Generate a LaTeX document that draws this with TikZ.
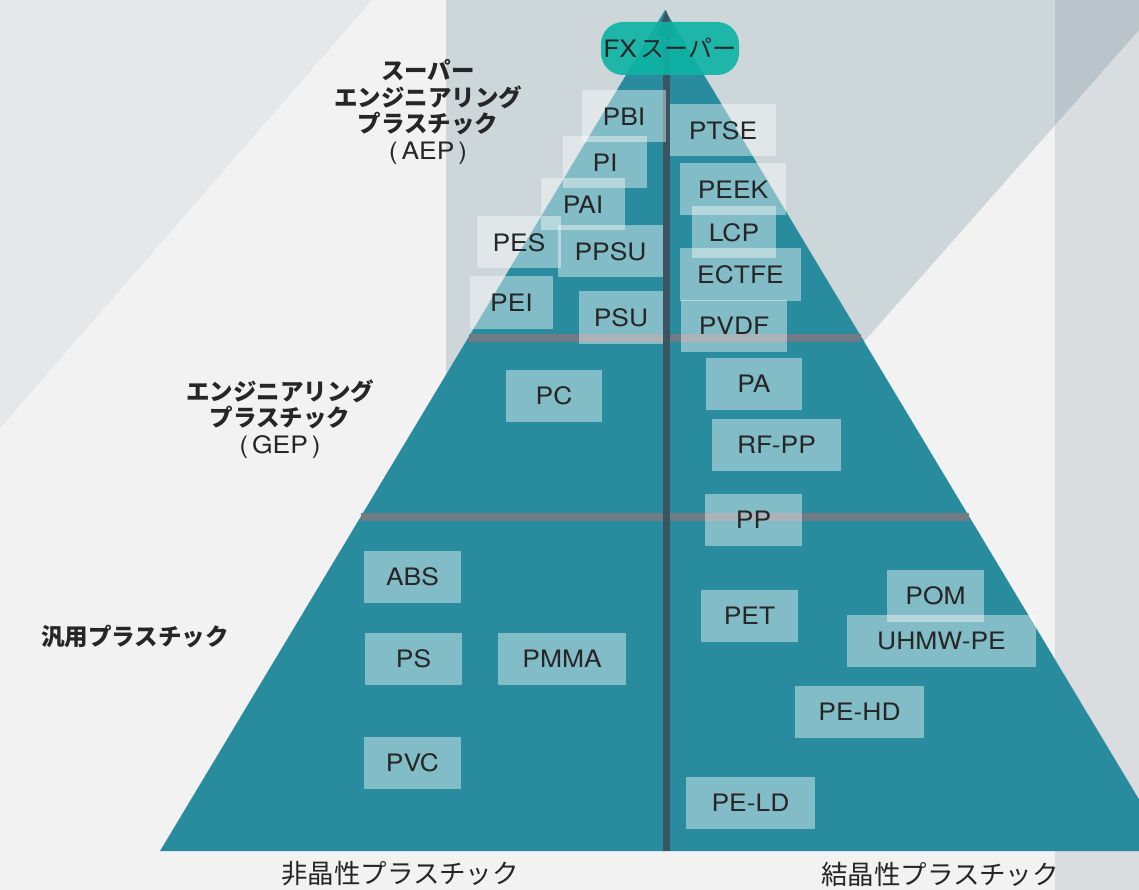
\documentclass[tikz,border=0pt]{standalone}
\usepackage{fontspec}
\setmainfont{TeX Gyre Heros}[FakeStretch=1.1]
\newfontfamily\jp{Noto Sans CJK JP}
\definecolor{bgc}{HTML}{F2F2F2}
\definecolor{lefttri}{HTML}{E6E7E8}
\definecolor{topc}{HTML}{CDD7DA}
\definecolor{bandc}{HTML}{D9DDE0}
\definecolor{bandtop}{HTML}{B9C5CA}
\definecolor{teal}{HTML}{288C9E}
\definecolor{sepc}{HTML}{6F7C85}
\definecolor{axisc}{HTML}{3A5561}
\definecolor{pillc}{HTML}{0DB3A5}
\definecolor{txt}{HTML}{262626}
\begin{document}
\begin{tikzpicture}[x=1pt,y=-1pt,
  box/.style={fill=white,fill opacity=0.42,text opacity=1,text=txt,
    minimum height=52pt,inner sep=0pt,font=\fontsize{24}{26}\selectfont},
  jplabel/.style={align=center,text=txt,font=\jp\bfseries\fontsize{23.5}{26.5}\selectfont},
  axislabel/.style={text=txt,font=\jp\fontsize{26.5}{30}\selectfont}]
\useasboundingbox (0,0) rectangle (1139,890);
% background
\fill[bgc] (0,0) rectangle (1139,890);
\fill[lefttri] (0,0) -- (372,0) -- (0,428) -- cycle;
\fill[bandc] (1055,0) rectangle (1139,890);
\fill[topc] (446,0) -- (1139,0) -- (1139,30) -- (665,567) -- (446,400) -- cycle;
\fill[bandtop] (1055,0) -- (1139,0) -- (1139,30) -- (1055,125) -- cycle;
% pyramid
\coordinate (apex) at (665,10);
\coordinate (bl) at (160,851);
\coordinate (br) at (1170,851);
\fill[teal] (apex) -- (bl) -- (br) -- cycle;
% separators
\coordinate (s1l) at (469,338);
\coordinate (s1r) at (861,338);
\coordinate (s2l) at (361,517);
\coordinate (s2r) at (969,517);
\draw[sepc,line width=8pt] (s1l) -- (s1r);
\draw[sepc,line width=8pt] (s2l) -- (s2r);
% axis
\coordinate (axb) at (666,851);
\coordinate (axt) at (666,34);
\draw[axisc,line width=7pt] (axb) -- (axt);
\fill[axisc] (657,36) -- (666,10) -- (675,36) -- cycle;
% boxes
\node[box,minimum width=84pt]  (pbi)   at (624,116.5) {PBI};
\node[box,minimum width=106pt] (ptse)  at (723,130.5) {PTSE};
\node[box,minimum width=84pt]  (pi)    at (605,162.5) {PI};
\node[box,minimum width=106pt] (peek)  at (733,189.5) {PEEK};
\node[box,minimum width=84pt]  (pai)   at (583,204.5) {PAI};
\node[box,minimum width=84pt]  (lcp)   at (734,232.5) {LCP};
\node[box,minimum width=84pt]  (pes)   at (519,242.5) {PES};
\node[box,minimum width=105pt] (ppsu)  at (610.5,251.5) {PPSU};
\node[box,minimum width=121pt] (ectfe) at (740.5,274.5) {ECTFE};
\node[box,minimum width=83pt]  (pei)   at (511.5,302.5) {PEI};
\node[box,minimum width=84pt]  (psu)   at (621,317.5) {PSU};
\node[box,minimum width=106pt] (pvdf)  at (734,325.5) {PVDF};
\node[box,minimum width=96pt]  (pc)    at (554,396) {PC};
\node[box,minimum width=96pt]  (pa)    at (754,384) {PA};
\node[box,minimum width=129pt] (rfpp)  at (776.5,445) {RF-PP};
\node[box,minimum width=97pt]  (pp)    at (753.5,520) {PP};
\node[box,minimum width=97pt]  (abs)   at (412.5,577) {ABS};
\node[box,minimum width=97pt]  (pom)   at (935.5,596) {POM};
\node[box,minimum width=97pt]  (pet)   at (749.5,616) {PET};
\node[box,minimum width=189pt] (uhmw)  at (941.5,641) {UHMW-PE};
\node[box,minimum width=97pt]  (ps)    at (413.5,659) {PS};
\node[box,minimum width=128pt] (pmma)  at (562,659) {PMMA};
\node[box,minimum width=129pt] (pehd)  at (859.5,712) {PE-HD};
\node[box,minimum width=97pt]  (pvc)   at (412.5,763) {PVC};
\node[box,minimum width=129pt] (peld)  at (750.5,803) {PE-LD};
% pill
\node[fill=pillc,fill opacity=0.9,text opacity=1,text=txt,rounded corners=22pt,
  minimum width=138pt,minimum height=53pt,inner sep=0pt,
  font=\fontsize{24}{26}\selectfont] (fx) at (670,48.5) {FX\,{\jp スーパー}};
% labels
\node[jplabel] (aep) at (428,112) {スーパー\\エンジニアリング\\プラスチック\\{\mdseries\rmfamily\fontsize{24}{26.5}\selectfont (\,AEP\,)}};
\node[jplabel] (gep) at (280,419) {エンジニアリング\\プラスチック\\{\mdseries\rmfamily\fontsize{24}{26.5}\selectfont (\,GEP\,)}};
\node[jplabel] (gen) at (135,637) {汎用プラスチック};
\node[axislabel] (amor) at (400,874) {非晶性プラスチック};
\node[axislabel] (cryst) at (940,874) {結晶性プラスチック};
\end{tikzpicture}
\end{document}
